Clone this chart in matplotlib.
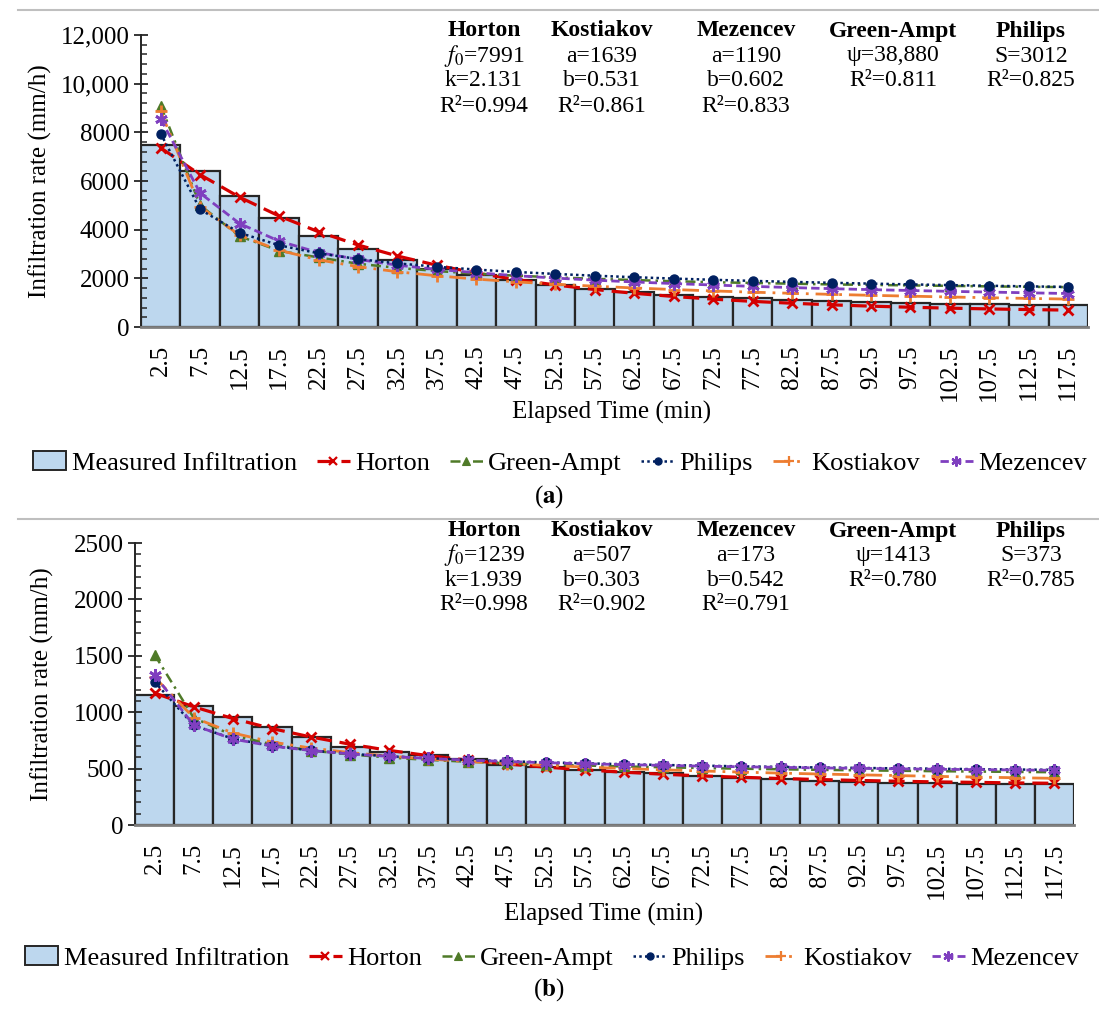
import matplotlib
matplotlib.use("Agg")
import matplotlib.pyplot as plt
from matplotlib.lines import Line2D
from matplotlib.patches import Patch

plt.rcParams['font.family'] = ['Liberation Serif', 'DejaVu Serif']
plt.rcParams['mathtext.fontset'] = 'stix'

# ---------------- data ----------------
time_labels = ["2.5", "7.5", "12.5", "17.5", "22.5", "27.5", "32.5", "37.5",
               "42.5", "47.5", "52.5", "57.5", "62.5", "67.5", "72.5", "77.5",
               "82.5", "87.5", "92.5", "97.5", "102.5", "107.5", "112.5", "117.5"]

measured_a = [7470, 6400, 5370, 4460, 3740, 3190, 2760, 2400, 2150, 1920, 1710, 1550,
              1440, 1330, 1235, 1180, 1100, 1060, 1030, 1000, 965, 935, 920, 895]
horton_a = [7361, 6258, 5334, 4561, 3913, 3371, 2917, 2536, 2218, 1952, 1728, 1541,
            1385, 1254, 1144, 1053, 976, 911, 857, 812, 774, 743, 716, 694]
green_a = [9100, 5000, 3730, 3130, 2860, 2600, 2430, 2300, 2190, 2110, 2040, 1980,
           1930, 1880, 1840, 1810, 1780, 1750, 1730, 1710, 1690, 1670, 1650, 1640]
philips_a = [7948, 4829, 3870, 3358, 3029, 2794, 2616, 2475, 2359, 2263, 2180, 2108,
             2046, 1990, 1940, 1895, 1854, 1817, 1783, 1751, 1722, 1695, 1670, 1646]
kostiakov_a = [8861, 4945, 3770, 3153, 2759, 2480, 2270, 2104, 1968, 1856, 1759, 1677,
               1604, 1540, 1482, 1431, 1384, 1341, 1302, 1267, 1233, 1203, 1174, 1147]
mezencev_a = [8550, 5500, 4250, 3530, 3060, 2780, 2540, 2370, 2230, 2110, 2010, 1925,
              1850, 1785, 1725, 1670, 1620, 1575, 1535, 1500, 1465, 1435, 1405, 1375]

measured_b = [1150, 1058, 957, 872, 783, 691, 644, 620, 582, 532, 517, 488,
              467, 458, 437, 418, 405, 390, 384, 375, 370, 366, 363, 360]
horton_b = [1170, 1048, 944, 855, 780, 716, 661, 615, 575, 541, 513, 489,
            468, 450, 435, 423, 412, 403, 395, 388, 382, 378, 373, 370]
green_b = [1510, 950, 795, 715, 660, 625, 598, 577, 561, 548, 536, 527,
           519, 512, 505, 499, 494, 489, 485, 481, 477, 474, 471, 468]
philips_b = [1270, 883, 765, 701, 661, 631, 609, 592, 578, 566, 555, 547,
             539, 532, 526, 520, 515, 510, 506, 502, 499, 495, 492, 489]
kostiakov_b = [1310, 952, 816, 736, 682, 642, 611, 585, 563, 544, 528, 514,
               501, 489, 479, 469, 460, 452, 445, 438, 431, 425, 419, 414]
mezencev_b = [1330, 885, 762, 700, 660, 630, 608, 590, 575, 563, 552, 543,
              535, 528, 522, 516, 511, 506, 502, 498, 494, 491, 488, 485]

yticks_a = [0, 2000, 4000, 6000, 8000, 10000, 12000]
yticklabels_a = ["0", "2000", "4000", "6000", "8000", "10,000", "12,000"]
yticks_b = [0, 500, 1000, 1500, 2000, 2500]
yticklabels_b = ["0", "500", "1000", "1500", "2000", "2500"]

model_names = ["Horton", "Kostiakov", "Mezencev", "Green-Ampt", "Philips"]
params_a = [[r"$f_0$=7991", "k=2.131", "R²=0.994"],
            ["a=1639", "b=0.531", "R²=0.861"],
            ["a=1190", "b=0.602", "R²=0.833"],
            ["ψ=38,880", "R²=0.811"],
            ["S=3012", "R²=0.825"]]
params_b = [[r"$f_0$=1239", "k=1.939", "R²=0.998"],
            ["a=507", "b=0.303", "R²=0.902"],
            ["a=173", "b=0.542", "R²=0.791"],
            ["ψ=1413", "R²=0.780"],
            ["S=373", "R²=0.785"]]

# ---------------- styles ----------------
styles = {
    "Horton": dict(color="#D40000", ls=(0, (5, 2.5)), lw=2.3, marker="x", ms=7, mew=2.0),
    "Green-Ampt": dict(color="#4F7A28", ls=(0, (4, 2, 1, 2)), lw=1.8, marker="^", ms=6.5, mew=1),
    "Philips": dict(color="#002060", ls=(0, (1, 1.3)), lw=1.8, marker="o", ms=6.5, mew=1),
    "Kostiakov": dict(color="#ED7D31", ls=(0, (6, 2.5, 1, 2.5)), lw=2.0, marker="+", ms=9, mew=2.0),
    "Mezencev": dict(color="#7F3FBF", ls=(0, (3, 1.5)), lw=2.0, marker=(6, 2, 0), ms=9, mew=2.0),
}
bar_color = "#BDD7EE"
bar_edge = "#262626"

W, H = 1099, 1014
fig = plt.figure(figsize=(W / 100, H / 100), dpi=100)


def px_axes(l, t, r, b):
    return fig.add_axes([l / W, 1 - b / H, (r - l) / W, (b - t) / H])


def fx(x):
    return x / W


def fy(y):
    return 1 - y / H


def draw_panel(ax, measured, series, ymax, yticks, yticklabels, minor_step, order):
    x = list(range(len(time_labels)))
    ax.bar(x, measured, width=1.0, color=bar_color, edgecolor=bar_edge, linewidth=1.6, zorder=1)
    for name in order:
        st = styles[name]
        ax.plot(x, series[name], color=st["color"], linestyle=st["ls"], linewidth=st["lw"],
                marker=st["marker"], markersize=st["ms"], markeredgewidth=st["mew"],
                markerfacecolor=st["color"], markeredgecolor=st["color"], zorder=3,
                clip_on=False)
    ax.set_xlim(-0.5, len(x) - 0.5)
    ax.set_ylim(0, ymax)
    ax.set_xticks(x)
    ax.set_xticklabels(time_labels, rotation=90, fontsize=18)
    ax.tick_params(axis="x", length=0, pad=13)
    ax.set_yticks(yticks)
    ax.set_yticklabels(yticklabels, fontsize=18)
    ax.set_yticks([v for v in range(0, ymax + 1, minor_step) if v not in yticks], minor=True)
    ax.tick_params(axis="y", which="major", direction="inout", length=10, width=1.3, pad=3, colors="#262626")
    ax.tick_params(axis="y", which="minor", direction="in", length=4.5, width=1.1, colors="#262626")
    ax.tick_params(axis="y", labelcolor="black")
    for s in ["top", "right"]:
        ax.spines[s].set_visible(False)
    ax.spines["left"].set_color("#262626")
    ax.spines["left"].set_linewidth(1.4)
    ax.spines["bottom"].set_color("#7F7F7F")
    ax.spines["bottom"].set_linewidth(2.0)
    ax.set_facecolor("none")


# Panel (a)
ax_a = px_axes(141, 35, 1088, 327)
series_a = {"Horton": horton_a, "Green-Ampt": green_a, "Philips": philips_a,
            "Kostiakov": kostiakov_a, "Mezencev": mezencev_a}
draw_panel(ax_a, measured_a, series_a, 12000, yticks_a, yticklabels_a, 400,
           ["Horton", "Green-Ampt", "Kostiakov", "Mezencev", "Philips"])

# Panel (b)
ax_b = px_axes(135, 543, 1074, 825)
series_b = {"Horton": horton_b, "Green-Ampt": green_b, "Philips": philips_b,
            "Kostiakov": kostiakov_b, "Mezencev": mezencev_b}
draw_panel(ax_b, measured_b, series_b, 2500, yticks_b, yticklabels_b, 100,
           ["Horton", "Green-Ampt", "Kostiakov", "Philips", "Mezencev"])

# axis labels
fig.text(fx(40), fy(181), "Infiltration rate (mm/h)", rotation=90, ha="center", va="center", fontsize=18)
fig.text(fx(42), fy(684), "Infiltration rate (mm/h)", rotation=90, ha="center", va="center", fontsize=18)
fig.text(fx(612), fy(412), "Elapsed Time (min)", ha="center", va="center", fontsize=18)
fig.text(fx(604), fy(914), "Elapsed Time (min)", ha="center", va="center", fontsize=18)

# parameter annotations
col_x = [484, 602, 746, 893, 1031]


def annotate(params, y0, dy):
    for cx, name, lines in zip(col_x, model_names, params):
        fig.text(fx(cx), fy(y0), name, ha="center", va="center", fontsize=17, fontweight="bold")
        for i, ln in enumerate(lines):
            fig.text(fx(cx), fy(y0 + dy * (i + 1)), ln, ha="center", va="center", fontsize=17)


annotate(params_a, 31, 25)
annotate(params_b, 531, 24.5)

# legends
handles = [Patch(facecolor=bar_color, edgecolor=bar_edge, linewidth=1.4)]
labels = ["Measured Infiltration"]
for name in ["Horton", "Green-Ampt", "Philips", "Kostiakov", "Mezencev"]:
    st = styles[name]
    handles.append(Line2D([], [], color=st["color"], linestyle=st["ls"], linewidth=st["lw"],
                          marker=st["marker"], markersize=st["ms"] * 0.8, markeredgewidth=st["mew"] * 0.8,
                          markerfacecolor=st["color"], markeredgecolor=st["color"]))
    labels.append(name)

for cx, cy in [(560, 463), (552, 958)]:
    fig.legend(handles, labels, loc="center", bbox_to_anchor=(fx(cx), fy(cy)), ncol=6,
               frameon=False, fontsize=19, handlelength=1.25, handletextpad=0.2,
               columnspacing=0.75, borderpad=0)

# panel captions
fig.text(fx(549), fy(497), r"($\mathbf{a}$)", ha="center", va="center", fontsize=18)
fig.text(fx(549), fy(990), r"($\mathbf{b}$)", ha="center", va="center", fontsize=18)

# separator lines
for yy in [10, 519]:
    fig.add_artist(Line2D([fx(18), fx(1099)], [fy(yy), fy(yy)], color="#BFBFBF", linewidth=1.5))

fig.savefig("out.png", dpi=100)
